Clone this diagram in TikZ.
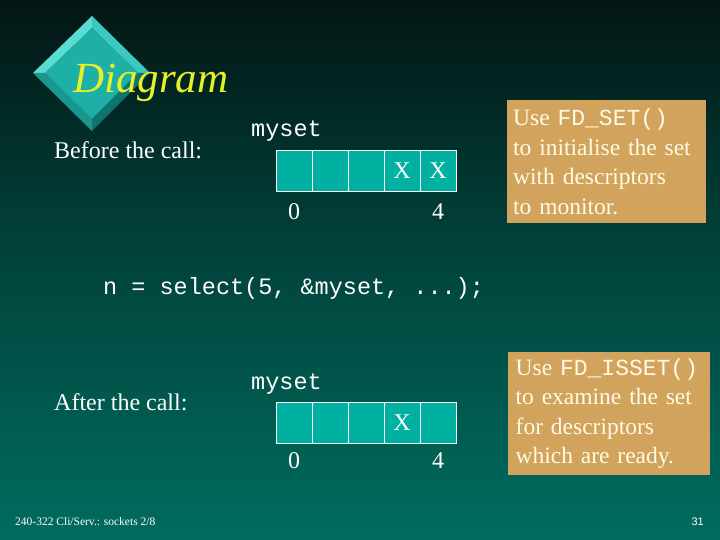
\documentclass[tikz,border=0pt]{standalone}
\usepackage{fontspec}
\setmainfont{Liberation Serif}
\setmonofont{Liberation Mono}
\newfontfamily\footsans{Liberation Sans}
\usetikzlibrary{positioning}
\definecolor{bgtop}{RGB}{3,22,20}
\definecolor{bgbot}{RGB}{0,108,94}
\definecolor{cellfill}{RGB}{0,176,160}
\definecolor{notefill}{RGB}{210,163,92}
\definecolor{notetext}{RGB}{255,250,228}
\definecolor{titleyellow}{RGB}{232,240,40}
\definecolor{dface}{RGB}{30,176,166}
\definecolor{dlight}{RGB}{90,220,210}
\definecolor{dmidlight}{RGB}{60,200,190}
\definecolor{dmiddark}{RGB}{25,150,142}
\definecolor{ddark}{RGB}{15,115,110}
\tikzset{
  cellbox/.style={draw=white, line width=0.8pt, fill=cellfill, minimum width=36pt, minimum height=41pt, inner sep=0pt, font=\fontsize{24}{24}\selectfont, text=white},
  idx/.style={text=white, font=\fontsize{24}{24}\selectfont, inner sep=0pt},
  lbl/.style={text=white, font=\fontsize{24}{24}\selectfont, inner sep=0pt, anchor=west},
  code/.style={text=white, font=\ttfamily\fontsize{23.5}{23.5}\selectfont, inner sep=0pt, anchor=west},
  note/.style={fill=notefill, text=notetext, anchor=north west, minimum width=197pt, minimum height=123pt, text width=187pt, inner xsep=6pt, inner ysep=3pt, align=left, font=\fontsize{23.5}{29.5}\selectfont},
  foot/.style={text=white, inner sep=0pt}
}
\begin{document}
\begin{tikzpicture}[x=1pt,y=-1pt]
\useasboundingbox (0,0) rectangle (720,540);
\shade[top color=bgtop, bottom color=bgbot, middle color={rgb,255:red,1;green,70;blue,62}] (0,0) rectangle (720,540);
% diamond logo
\coordinate (T) at (92,16); \coordinate (R) at (150,73);
\coordinate (B) at (92,131); \coordinate (L) at (33,73);
\coordinate (Ti) at (92,28); \coordinate (Ri) at (138,73);
\coordinate (Bi) at (92,119); \coordinate (Li) at (45,73);
\fill[dlight] (T) -- (L) -- (Li) -- (Ti) -- cycle;
\fill[dmidlight] (T) -- (R) -- (Ri) -- (Ti) -- cycle;
\fill[ddark] (R) -- (B) -- (Bi) -- (Ri) -- cycle;
\fill[dmiddark] (L) -- (B) -- (Bi) -- (Li) -- cycle;
\fill[dface] (Ti) -- (Ri) -- (Bi) -- (Li) -- cycle;
% title
\node[anchor=base west, inner sep=0pt, text=titleyellow, font=\itshape\fontsize{43}{43}\selectfont] (title) at (73,93) {Diagram};
% before
\node[lbl] (before) at (54,150) {Before the call:};
\node[code] (myset1) at (251,131) {myset};
\foreach \i/\t in {0/,1/,2/,3/X,4/X}{
  \node[cellbox] (a\i) at (294+36*\i,170.5) {\t};
}
\node[idx] (a0lbl) at (294,212) {0};
\node[idx] (a4lbl) at (438,212) {4};
\node[note] (note1) at (507,100) {Use {\ttfamily\fontsize{23}{29.5}\selectfont FD\_SET()}\\to initialise the set\\with descriptors\\to monitor.};
% call
\node[code] (call) at (103,288) {n = select(5, \&myset, ...);};
% after
\node[lbl] (after) at (54,402) {After the call:};
\node[code] (myset2) at (251,384) {myset};
\foreach \i/\t in {0/,1/,2/,3/X,4/}{
  \node[cellbox] (b\i) at (294+36*\i,422.5) {\t};
}
\node[idx] (b0lbl) at (294,461) {0};
\node[idx] (b4lbl) at (438,461) {4};
\node[note, minimum width=202pt] (note2) at (508,352) {Use {\ttfamily\fontsize{23}{29.5}\selectfont FD\_ISSET()}\\to examine the set\\for descriptors\\which are ready.};
% footer
\node[foot, anchor=west, font=\fontsize{11.5}{11.5}\selectfont] (footl) at (15,522) {240-322 Cli/Serv.: sockets 2/8};
\node[foot, anchor=east, font=\footsans\fontsize{11}{11}\selectfont] (footr) at (704,522) {31};
\end{tikzpicture}
\end{document}
